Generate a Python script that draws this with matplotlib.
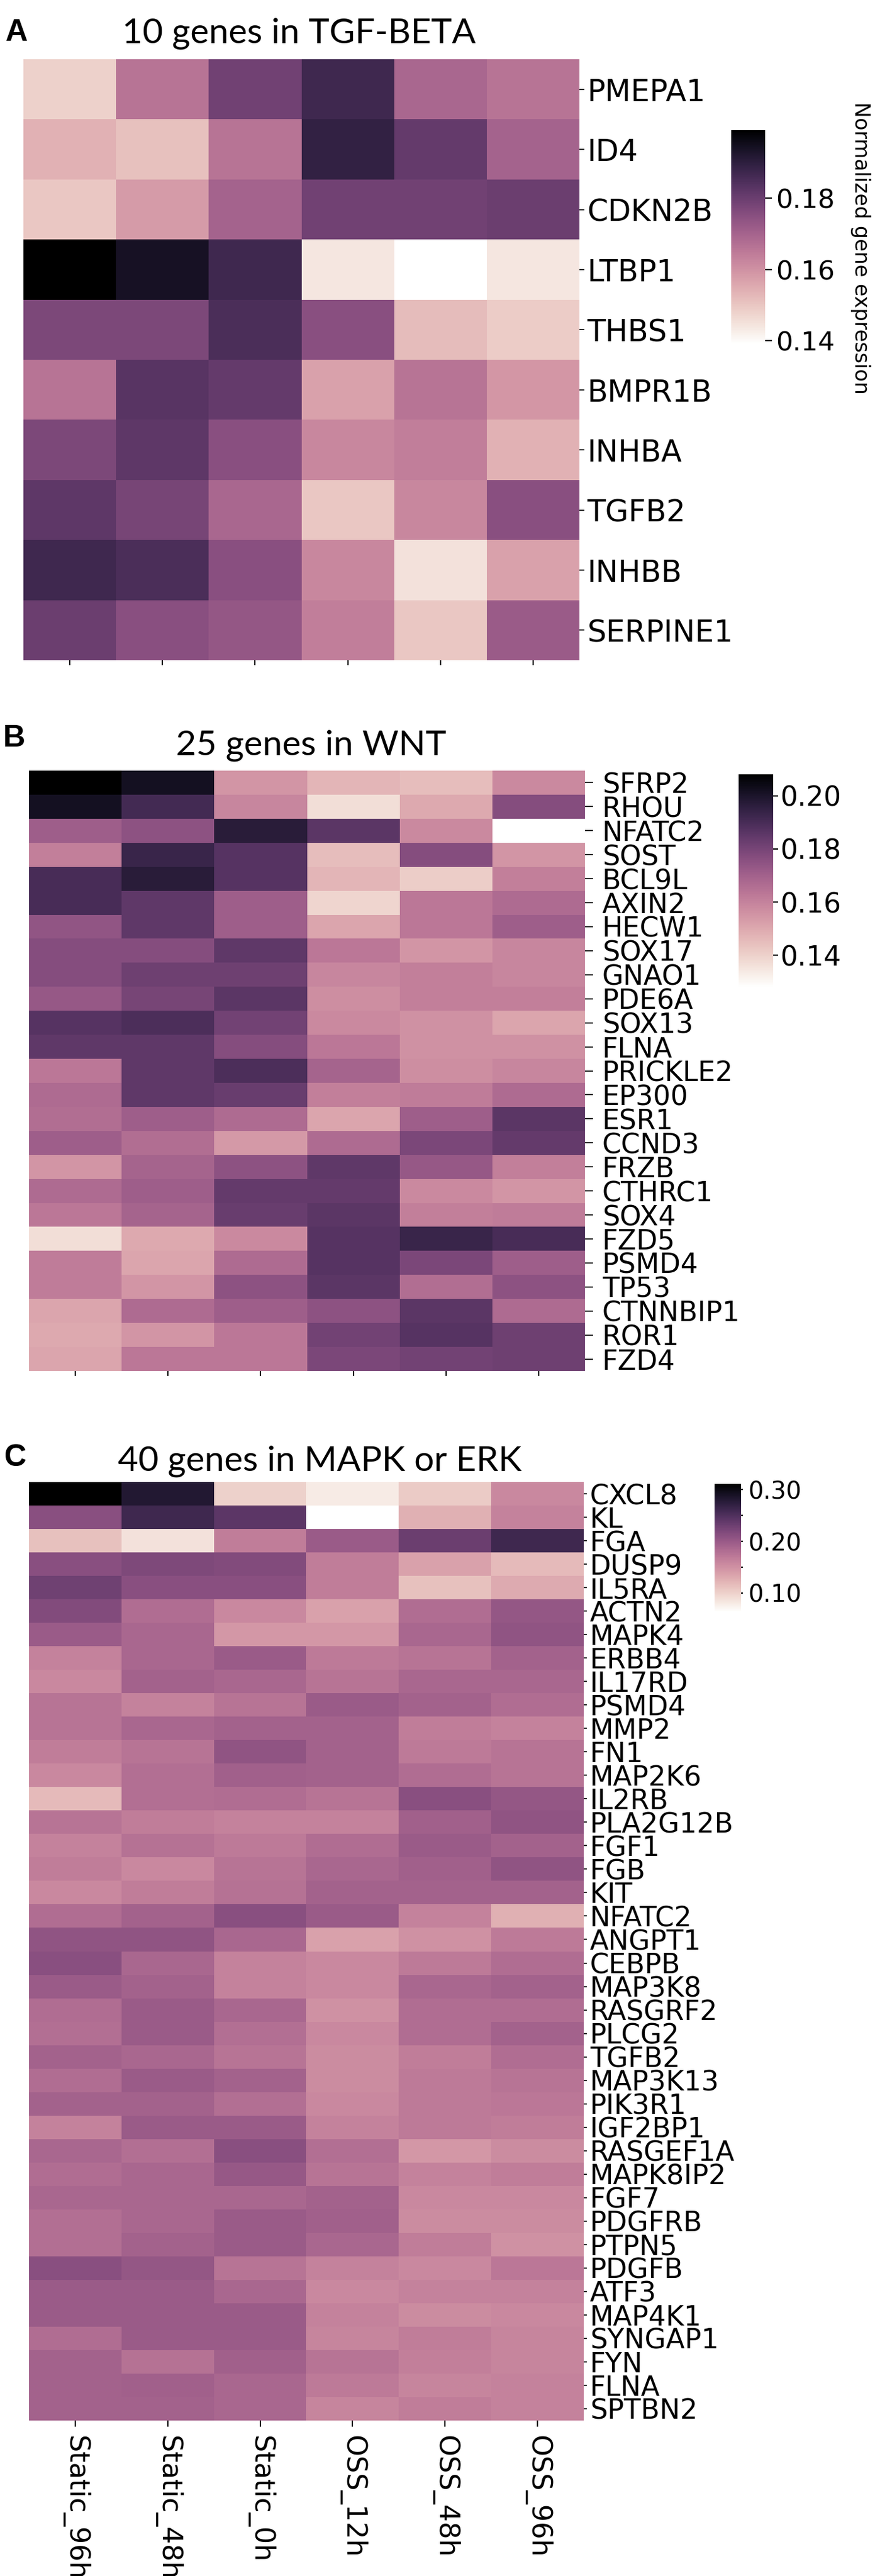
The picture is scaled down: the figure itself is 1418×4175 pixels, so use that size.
import numpy as np
import pandas as pd
import matplotlib
matplotlib.use("Agg")
import matplotlib.pyplot as plt
import seaborn as sns
from matplotlib.ticker import FixedLocator

conditions = ["Static_96h", "Static_48h", "Static_0h", "OSS_12h", "OSS_48h", "OSS_96h"]

# panel A - TGF-BETA
tgf_genes = ["PMEPA1", "ID4", "CDKN2B", "LTBP1", "THBS1", "BMPR1B", "INHBA", "TGFB2", "INHBB", "SERPINE1"]
tgf_vals = [
    [0.148, 0.166, 0.179, 0.187, 0.169, 0.166],
    [0.154, 0.151, 0.166, 0.189, 0.181, 0.170],
    [0.150, 0.158, 0.170, 0.179, 0.179, 0.180],
    [0.199, 0.194, 0.187, 0.144, 0.139, 0.144],
    [0.177, 0.177, 0.185, 0.175, 0.152, 0.149],
    [0.166, 0.183, 0.181, 0.157, 0.166, 0.159],
    [0.177, 0.182, 0.175, 0.162, 0.164, 0.154],
    [0.182, 0.178, 0.169, 0.150, 0.162, 0.175],
    [0.187, 0.185, 0.175, 0.162, 0.145, 0.157],
    [0.180, 0.175, 0.173, 0.164, 0.150, 0.172],
]

# panel B - WNT
wnt_genes = ["SFRP2", "RHOU", "NFATC2", "SOST", "BCL9L", "AXIN2", "HECW1", "SOX17", "GNAO1",
             "PDE6A", "SOX13", "FLNA", "PRICKLE2", "EP300", "ESR1", "CCND3", "FRZB", "CTHRC1",
             "SOX4", "FZD5", "PSMD4", "TP53", "CTNNBIP1", "ROR1", "FZD4"]
wnt_vals = [
    [0.208, 0.202, 0.155, 0.147, 0.145, 0.158],
    [0.202, 0.191, 0.159, 0.137, 0.150, 0.177],
    [0.171, 0.175, 0.197, 0.186, 0.158, 0.128],
    [0.161, 0.193, 0.187, 0.145, 0.177, 0.155],
    [0.190, 0.197, 0.187, 0.147, 0.141, 0.161],
    [0.190, 0.185, 0.171, 0.139, 0.163, 0.167],
    [0.174, 0.185, 0.171, 0.151, 0.163, 0.171],
    [0.177, 0.177, 0.185, 0.163, 0.155, 0.159],
    [0.177, 0.182, 0.182, 0.159, 0.161, 0.159],
    [0.173, 0.180, 0.186, 0.157, 0.161, 0.161],
    [0.187, 0.189, 0.181, 0.158, 0.156, 0.151],
    [0.185, 0.185, 0.177, 0.163, 0.156, 0.156],
    [0.163, 0.185, 0.189, 0.169, 0.157, 0.159],
    [0.167, 0.185, 0.183, 0.161, 0.162, 0.167],
    [0.166, 0.171, 0.167, 0.151, 0.171, 0.186],
    [0.171, 0.166, 0.154, 0.167, 0.179, 0.184],
    [0.155, 0.169, 0.175, 0.185, 0.173, 0.161],
    [0.167, 0.171, 0.184, 0.184, 0.158, 0.155],
    [0.163, 0.169, 0.183, 0.186, 0.161, 0.162],
    [0.137, 0.150, 0.158, 0.187, 0.193, 0.190],
    [0.162, 0.151, 0.167, 0.187, 0.179, 0.171],
    [0.162, 0.155, 0.175, 0.186, 0.166, 0.175],
    [0.151, 0.167, 0.171, 0.175, 0.186, 0.167],
    [0.150, 0.155, 0.163, 0.181, 0.187, 0.182],
    [0.151, 0.163, 0.163, 0.179, 0.181, 0.182],
]

# panel C - MAPK or ERK
mapk_genes = ["CXCL8", "KL", "FGA", "DUSP9", "IL5RA", "ACTN2", "MAPK4", "ERBB4", "IL17RD", "PSMD4",
              "MMP2", "FN1", "MAP2K6", "IL2RB", "PLA2G12B", "FGF1", "FGB", "KIT", "NFATC2", "ANGPT1",
              "CEBPB", "MAP3K8", "RASGRF2", "PLCG2", "TGFB2", "MAP3K13", "PIK3R1", "IGF2BP1",
              "RASGEF1A", "MAPK8IP2", "FGF7", "PDGFRB", "PTPN5", "PDGFB", "ATF3", "MAP4K1",
              "SYNGAP1", "FYN", "FLNA", "SPTBN2"]
mapk_vals = [
    [0.311, 0.281, 0.100, 0.080, 0.105, 0.157],
    [0.212, 0.261, 0.242, 0.063, 0.125, 0.162],
    [0.113, 0.088, 0.167, 0.199, 0.232, 0.261],
    [0.212, 0.219, 0.217, 0.167, 0.137, 0.118],
    [0.229, 0.212, 0.212, 0.167, 0.113, 0.130],
    [0.217, 0.182, 0.157, 0.137, 0.182, 0.204],
    [0.199, 0.187, 0.145, 0.145, 0.187, 0.207],
    [0.162, 0.187, 0.199, 0.170, 0.175, 0.192],
    [0.157, 0.192, 0.187, 0.175, 0.187, 0.187],
    [0.175, 0.162, 0.175, 0.199, 0.192, 0.182],
    [0.175, 0.187, 0.192, 0.192, 0.167, 0.162],
    [0.167, 0.175, 0.207, 0.192, 0.170, 0.175],
    [0.157, 0.180, 0.194, 0.192, 0.182, 0.175],
    [0.118, 0.180, 0.182, 0.175, 0.212, 0.204],
    [0.175, 0.167, 0.162, 0.162, 0.194, 0.207],
    [0.162, 0.177, 0.170, 0.182, 0.199, 0.192],
    [0.167, 0.157, 0.175, 0.187, 0.194, 0.207],
    [0.157, 0.167, 0.177, 0.192, 0.192, 0.192],
    [0.182, 0.192, 0.212, 0.199, 0.162, 0.125],
    [0.207, 0.207, 0.187, 0.137, 0.150, 0.170],
    [0.212, 0.187, 0.162, 0.157, 0.170, 0.182],
    [0.199, 0.192, 0.162, 0.157, 0.187, 0.192],
    [0.182, 0.199, 0.187, 0.150, 0.182, 0.182],
    [0.180, 0.199, 0.180, 0.157, 0.182, 0.192],
    [0.192, 0.187, 0.175, 0.155, 0.167, 0.182],
    [0.182, 0.199, 0.192, 0.155, 0.170, 0.175],
    [0.192, 0.192, 0.180, 0.157, 0.170, 0.172],
    [0.162, 0.199, 0.199, 0.162, 0.170, 0.167],
    [0.187, 0.180, 0.212, 0.180, 0.145, 0.155],
    [0.182, 0.187, 0.202, 0.175, 0.162, 0.167],
    [0.187, 0.187, 0.187, 0.192, 0.157, 0.157],
    [0.180, 0.187, 0.199, 0.194, 0.155, 0.155],
    [0.180, 0.192, 0.199, 0.187, 0.167, 0.150],
    [0.212, 0.204, 0.175, 0.162, 0.157, 0.172],
    [0.199, 0.199, 0.187, 0.157, 0.162, 0.162],
    [0.199, 0.199, 0.199, 0.162, 0.155, 0.157],
    [0.182, 0.199, 0.199, 0.160, 0.167, 0.160],
    [0.192, 0.177, 0.194, 0.175, 0.165, 0.160],
    [0.192, 0.194, 0.187, 0.170, 0.160, 0.162],
    [0.192, 0.192, 0.187, 0.160, 0.167, 0.162],
]

W, H = 1418, 4175
fig = plt.figure(figsize=(W / 100, H / 100), dpi=100)


def box(l, t, r, b):
    # pixel box (from top-left) -> figure fraction
    return [l / W, 1 - b / H, (r - l) / W, (b - t) / H]


cmap = sns.cubehelix_palette(light=1, dark=0, as_cmap=True)

panels = [
    dict(letter="A", title="10 genes in TGF-BETA", genes=tgf_genes, vals=tgf_vals,
         hm=(38, 96, 939, 1070), cb=(1185, 211, 1240, 558),
         cticks=[0.14, 0.16, 0.18], cminor=[], fs=35, yl=6, yp=3, cfs=31, cl=8, cp=4,
         ltr=(27, 53), ttl=(484, 70)),
    dict(letter="B", title="25 genes in WNT", genes=wnt_genes, vals=wnt_vals,
         hm=(47, 1249, 948, 2222), cb=(1197, 1255, 1253, 1600),
         cticks=[0.14, 0.16, 0.18, 0.20], cminor=[], fs=32, yl=9, yp=11, cfs=32, cl=6, cp=2,
         ltr=(23, 1197), ttl=(504, 1223)),
    dict(letter="C", title="40 genes in MAPK or ERK", genes=mapk_genes, vals=mapk_vals,
         hm=(47, 2402, 946, 3923), cb=(1158, 2405, 1201, 2613),
         cticks=[0.10, 0.20, 0.30], cminor=[0.15, 0.25], fs=32, yl=3.5, yp=3.5, cfs=28, cl=2.5, cp=6,
         ltr=(25, 2363), ttl=(518, 2384)),
]

for p in panels:
    ax = fig.add_axes(box(*p["hm"]))
    cax = fig.add_axes(box(*p["cb"]))
    df = pd.DataFrame(p["vals"], index=p["genes"], columns=conditions)
    sns.heatmap(df, ax=ax, cbar_ax=cax, cmap=cmap, xticklabels=True, yticklabels=True)
    ax.set_xlabel("")
    ax.set_ylabel("")
    ax.yaxis.tick_right()
    ax.set_yticklabels(p["genes"], rotation=0, fontsize=p["fs"])
    ax.tick_params(axis="y", length=p["yl"], pad=p["yp"], width=1.2)
    if p["letter"] == "C":
        ax.set_xticklabels(conditions, rotation=270, fontsize=32, ha="center", va="top")
        ax.tick_params(axis="x", length=7, pad=10, width=1.5)
    else:
        ax.set_xticklabels([])
        ax.tick_params(axis="x", length=6, width=1.5)

    cbar = ax.collections[0].colorbar
    cbar.set_ticks(p["cticks"])
    cbar.set_ticklabels(["%.2f" % t for t in p["cticks"]])
    cbar.ax.tick_params(labelsize=p["cfs"], length=p["cl"], pad=p["cp"], width=1.5)
    if p["cminor"]:
        cbar.ax.yaxis.set_minor_locator(FixedLocator(p["cminor"]))
        cbar.ax.tick_params(which="minor", length=p["cl"], width=1.5)
    cbar.outline.set_visible(False)

    fig.text(p["ltr"][0] / W, 1 - p["ltr"][1] / H, p["letter"], fontsize=36,
             fontweight="bold", family="Liberation Sans", ha="center", va="center")
    fig.text(p["ttl"][0] / W, 1 - p["ttl"][1] / H, p["title"], fontsize=41,
             family="Lato", ha="center", va="baseline")

fig.text(1394 / W, 1 - 402 / H, "Normalized gene expression", rotation=270,
         fontsize=24, ha="center", va="center")

fig.savefig("out.png", dpi=100)
